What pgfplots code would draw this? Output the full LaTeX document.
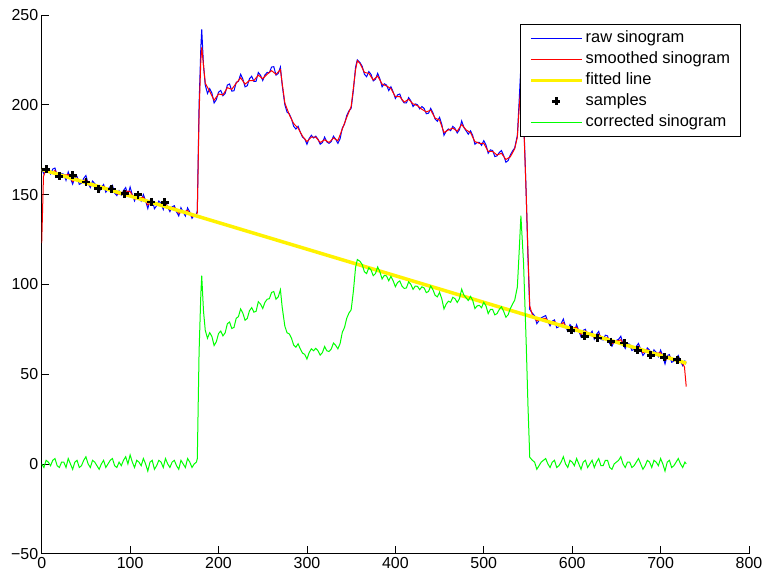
\documentclass[border=0pt]{standalone}
\usepackage{pgfplots}
\pgfplotsset{compat=1.18}
\usepackage{pgfplotstable}
\usepackage{fontspec}
\setmainfont{Liberation Sans}

\pgfplotstableread[row sep=\\]{
x y\\
0 164.0\\ 2.5 161.6\\ 5 165.3\\ 7.5 163.9\\ 10 161.5\\ 12.5 164.2\\ 15 164.8\\ 17.5 160.4\\ 20 159.0\\ 22.5 161.7\\
25 161.3\\ 27.5 157.9\\ 30 162.6\\ 32.5 159.2\\ 35 155.8\\ 37.5 159.5\\ 40 160.1\\ 42.5 155.7\\ 45 156.3\\ 47.5 159.0\\
50 160.6\\ 52.5 156.2\\ 55 153.9\\ 57.5 157.5\\ 60 156.1\\ 62.5 153.8\\ 65 151.4\\ 67.5 154.0\\ 70 155.6\\ 72.5 151.3\\
75 152.9\\ 77.5 154.5\\ 80 155.2\\ 82.5 150.8\\ 85 149.4\\ 87.5 152.1\\ 90 149.7\\ 92.5 152.3\\ 95 153.9\\ 97.5 149.6\\
100 154.2\\ 102.5 149.8\\ 105 146.5\\ 107.5 150.1\\ 110 148.7\\ 112.5 146.4\\ 115 150.0\\ 117.5 146.6\\ 120 142.2\\ 122.5 146.9\\
125 147.5\\ 127.5 142.1\\ 130 143.8\\ 132.5 146.4\\ 135 145.0\\ 137.5 141.7\\ 140 146.3\\ 142.5 142.9\\ 145 140.5\\ 147.5 143.2\\
150 143.8\\ 152.5 140.4\\ 155 138.1\\ 157.5 142.7\\ 160 140.3\\ 162.5 138.0\\ 165 142.6\\ 167.5 140.2\\ 170 136.8\\ 172.5 138.5\\
175 139.1\\ 176 141\\ 178 200\\ 180 232\\ 181 242\\ 183 222\\ 185 211\\ 187.5 206.3\\ 190 209\\ 192.5 206.5\\
195 201\\ 197.5 202.8\\ 200 207\\ 202.5 208\\ 205 205\\ 207.5 206.3\\ 210 211\\ 212.5 211.6\\ 215 207.6\\ 217.5 207.8\\
220 212.5\\ 222.5 213.1\\ 225 217\\ 227.5 214.3\\ 230 210\\ 232.5 210.6\\ 235 214.5\\ 237.5 215.9\\ 240 213\\ 242.5 213.1\\
245 218\\ 247.5 216.4\\ 250 213.5\\ 252.5 216.6\\ 255 218\\ 257.5 217.9\\ 260 221\\ 262.5 221.2\\ 265 216.5\\ 267.5 217.4\\
270 221\\ 272 211\\ 275 200\\ 277.5 195.9\\ 280 195\\ 282.5 192.2\\ 285 188\\ 287.5 186.5\\ 290 188\\ 292.5 184.7\\
295 182\\ 297.5 181\\ 300 178\\ 302.5 181.2\\ 305 183\\ 307.5 181.5\\ 310 182.5\\ 312.5 180.8\\ 315 178\\ 317.5 179\\
320 182\\ 322.5 179.3\\ 325 178.5\\ 327.5 179.5\\ 330 182.5\\ 332.5 180.8\\ 335 178.5\\ 337.5 181.1\\ 340 187\\ 342.5 189.3\\
345 194\\ 347.5 196.6\\ 350 198\\ 352.5 207.8\\ 355 221\\ 357 225\\ 360 223.5\\ 362.5 221.4\\ 365 217\\ 367.5 215.6\\
370 218.5\\ 372.5 216.9\\ 375 213.3\\ 377.5 214.2\\ 380 217.5\\ 382.5 214.4\\ 385 210\\ 387.5 211.7\\ 390 211\\ 392.5 207.9\\
395 210\\ 397.5 207.2\\ 400 203.5\\ 402.5 205.5\\ 405 206\\ 407.5 202.7\\ 410 201\\ 412.5 201\\ 415 204\\ 417.5 202.2\\
420 199\\ 422.5 200.5\\ 425 200\\ 427.5 197.7\\ 430 199\\ 432.5 198\\ 435 195\\ 437.5 195.3\\ 440 198\\ 442.5 195.5\\
445 192\\ 447.5 190.8\\ 450 193\\ 452.5 189.1\\ 455 183\\ 457.5 185.3\\ 460 186.5\\ 462.5 185.6\\ 465 188\\ 467.5 186.8\\
470 184.3\\ 472.5 186.1\\ 475 191\\ 477.5 187.4\\ 480 185.5\\ 482.5 183.6\\ 485 185.5\\ 487.5 182.9\\ 490 178\\ 492.5 179.1\\
495 179\\ 497.5 177.4\\ 500 180\\ 502.5 177.7\\ 505 173\\ 507.5 174.9\\ 510 174.5\\ 512.5 171.2\\ 515 171.5\\ 517.5 173.4\\
520 174.5\\ 522.5 171.7\\ 525 168\\ 527.5 168.9\\ 530 172\\ 532.5 174.2\\ 535 176\\ 538 183\\ 540 202\\ 542 222\\
545 195\\ 548 150\\ 550 115\\ 552 86\\ 555 83.9\\ 557.5 82.5\\ 560 78.1\\ 562.5 79.8\\ 565 81.4\\ 567.5 82.0\\
570 82.6\\ 572.5 79.3\\ 575 76.9\\ 577.5 79.5\\ 580 80.2\\ 582.5 75.8\\ 585 76.4\\ 587.5 78.1\\ 590 80.7\\ 592.5 76.3\\
595 73.9\\ 597.5 77.6\\ 600 76.2\\ 602.5 73.8\\ 605 77.5\\ 607.5 74.1\\ 610 70.7\\ 612.5 74.4\\ 615 75.0\\ 617.5 70.6\\
620 72.2\\ 622.5 73.9\\ 625 69.5\\ 627.5 72.1\\ 630 73.8\\ 632.5 69.4\\ 635 69.0\\ 637.5 71.7\\ 640 71.3\\ 642.5 66.9\\
645 65.5\\ 647.5 68.2\\ 650 68.8\\ 652.5 69.4\\ 655 71.1\\ 657.5 66.7\\ 660 64.3\\ 662.5 67.0\\ 665 66.6\\ 667.5 63.2\\
670 63.8\\ 672.5 65.5\\ 675 67.1\\ 677.5 63.7\\ 680 60.4\\ 682.5 62.0\\ 685 64.6\\ 687.5 63.3\\ 690 59.9\\ 692.5 63.5\\
695 62.1\\ 697.5 59.8\\ 700 63.4\\ 702.5 60.0\\ 705 55.7\\ 707.5 60.3\\ 710 60.9\\ 712.5 56.6\\ 715 57.2\\ 717.5 58.8\\
720 60.4\\ 722.5 57.1\\ 725 54.7\\ 727.5 57.3\\ 729 56.0\\
}\rawdata

\pgfplotstableread[row sep=\\]{
x y\\
0 123\\ 2 160\\ 5 164.3\\ 10 162.0\\ 15 163.3\\ 20 160.0\\ 25 160.8\\ 30 161.1\\ 35 157.3\\ 40 159.1\\ 45 156.8\\
50 158.6\\ 55 154.9\\ 60 155.6\\ 65 152.9\\ 70 154.6\\ 75 152.9\\ 80 153.7\\ 85 150.4\\ 90 150.2\\ 95 151.9\\
100 151.7\\ 105 147.5\\ 110 148.2\\ 115 148.5\\ 120 144.2\\ 125 146.5\\ 130 144.3\\ 135 144.5\\ 140 144.8\\ 145 141.5\\
150 142.8\\ 155 139.6\\ 160 140.3\\ 165 141.1\\ 170 137.8\\ 175 138.6\\ 176 140\\ 178 195\\ 180 225\\ 181 232\\
183 222\\ 185 212\\ 190 207.5\\ 195 202.5\\ 200 206\\ 205 205.5\\ 210 209.5\\ 215 208.6\\ 220 212\\ 225 215\\
230 211.5\\ 235 213.5\\ 240 213.5\\ 245 216.5\\ 250 214.5\\ 255 217\\ 260 219\\ 265 217\\ 270 219.5\\ 272 212\\
275 201\\ 280 194.5\\ 285 189.5\\ 290 187\\ 295 182.5\\ 300 179.5\\ 305 182\\ 310 182\\ 315 179\\ 320 180.5\\
325 179\\ 330 181.5\\ 335 180\\ 340 186.5\\ 345 193\\ 350 199\\ 355 219.5\\ 357 224.5\\ 360 223\\ 365 218\\
370 217.5\\ 375 213.8\\ 380 216\\ 385 211.5\\ 390 210.5\\ 395 209\\ 400 204.5\\ 405 204.5\\ 410 201.5\\ 415 203\\
420 200.5\\ 425 199.5\\ 430 197.5\\ 435 196\\ 440 197\\ 445 192.5\\ 450 191.5\\ 455 184.5\\ 460 186\\ 465 187\\
470 185.3\\ 475 189\\ 480 186\\ 485 184.5\\ 490 179.5\\ 495 178.5\\ 500 178.5\\ 505 174\\ 510 174\\ 515 172\\
520 173\\ 525 169.5\\ 530 171\\ 535 175.5\\ 538 182\\ 540 198\\ 542 210\\ 545 192\\ 548 150\\ 550 117\\
552 88\\ 555 82.9\\ 560 79.6\\ 565 80.9\\ 570 81.1\\ 575 77.9\\ 580 79.2\\ 585 76.9\\ 590 78.7\\ 595 74.9\\
600 75.7\\ 605 76.0\\ 610 72.2\\ 615 74.0\\ 620 72.2\\ 625 70.5\\ 630 72.3\\ 635 69.5\\ 640 70.3\\ 645 67.0\\
650 68.3\\ 655 69.1\\ 660 65.3\\ 665 66.1\\ 670 64.3\\ 675 65.6\\ 680 61.9\\ 685 63.6\\ 690 60.9\\ 695 61.6\\
700 61.9\\ 705 57.7\\ 710 59.9\\ 715 57.7\\ 720 58.9\\ 725 55.7\\ 727 54\\ 729 43\\
}\smoothdata

\pgfplotstableread[row sep=\\]{
x y\\
0 0.0\\ 2.5 -2\\ 5 2.0\\ 7.5 1\\ 10 -1.0\\ 12.5 2\\ 15 3.0\\ 17.5 -1\\ 20 -2.0\\ 22.5 1\\
25 1.0\\ 27.5 -2\\ 30 3.0\\ 32.5 0\\ 35 -3.0\\ 37.5 1\\ 40 2.0\\ 42.5 -2\\ 45 -1.0\\ 47.5 2\\
50 4.0\\ 52.5 0\\ 55 -2.0\\ 57.5 2\\ 60 1.0\\ 62.5 -1\\ 65 -3.0\\ 67.5 0\\ 70 2.0\\ 72.5 -2\\
75 0.0\\ 77.5 2\\ 80 3.0\\ 82.5 -1\\ 85 -2.0\\ 87.5 1\\ 90 -1.0\\ 92.5 2\\ 95 4.0\\ 97.5 0\\
100 5.0\\ 102.5 1\\ 105 -2.0\\ 107.5 2\\ 110 1.0\\ 112.5 -1\\ 115 3.0\\ 117.5 0\\ 120 -4.0\\ 122.5 1\\
125 2.0\\ 127.5 -3\\ 130 -1.0\\ 132.5 2\\ 135 1.0\\ 137.5 -2\\ 140 3.0\\ 142.5 0\\ 145 -2.0\\ 147.5 1\\
150 2.0\\ 152.5 -1\\ 155 -3.0\\ 157.5 2\\ 160 0.0\\ 162.5 -2\\ 165 3.0\\ 167.5 1\\ 170 -2.0\\ 172.5 0\\
175 1.0\\ 176 3.0\\ 178 62.3\\ 180 94.6\\ 181 104.8\\ 183 85.1\\ 185 74.4\\ 187.5 70\\ 190 73.1\\ 192.5 71\\
195 65.9\\ 197.5 68\\ 200 72.6\\ 202.5 74\\ 205 71.3\\ 207.5 73\\ 210 78.1\\ 212.5 79\\ 215 75.4\\ 217.5 76\\
220 81.1\\ 222.5 82\\ 225 86.3\\ 227.5 84\\ 230 80.0\\ 232.5 81\\ 235 85.3\\ 237.5 87\\ 240 84.5\\ 242.5 85\\
245 90.3\\ 247.5 89\\ 250 86.5\\ 252.5 90\\ 255 91.7\\ 257.5 92\\ 260 95.5\\ 262.5 96\\ 265 91.7\\ 267.5 93\\
270 97.0\\ 272 87.3\\ 275 76.7\\ 277.5 73\\ 280 72.4\\ 282.5 70\\ 285 66.2\\ 287.5 65\\ 290 66.9\\ 292.5 64\\
295 61.7\\ 297.5 61\\ 300 58.4\\ 302.5 62\\ 305 64.1\\ 307.5 63\\ 310 64.4\\ 312.5 63\\ 315 60.6\\ 317.5 62\\
320 65.4\\ 322.5 63\\ 325 62.6\\ 327.5 64\\ 330 67.3\\ 332.5 66\\ 335 64.1\\ 337.5 67\\ 340 73.3\\ 342.5 76\\
345 81.1\\ 347.5 84\\ 350 85.8\\ 352.5 96\\ 355 109.5\\ 357 113.8\\ 360 112.8\\ 362.5 111\\ 365 107.0\\ 367.5 106\\
370 109.3\\ 372.5 108\\ 375 104.8\\ 377.5 106\\ 380 109.7\\ 382.5 107\\ 385 103.0\\ 387.5 105\\ 390 104.7\\ 392.5 102\\
395 104.5\\ 397.5 102\\ 400 98.7\\ 402.5 101\\ 405 101.9\\ 407.5 99\\ 410 97.7\\ 412.5 98\\ 415 101.4\\ 417.5 100\\
420 97.2\\ 422.5 99\\ 425 98.9\\ 427.5 97\\ 430 98.6\\ 432.5 98\\ 435 95.4\\ 437.5 96\\ 440 99.1\\ 442.5 97\\
445 93.9\\ 447.5 93\\ 450 95.6\\ 452.5 92\\ 455 86.3\\ 457.5 89\\ 460 90.6\\ 462.5 90\\ 465 92.8\\ 467.5 92\\
470 89.9\\ 472.5 92\\ 475 97.3\\ 477.5 94\\ 480 92.5\\ 482.5 91\\ 485 93.3\\ 487.5 91\\ 490 86.5\\ 492.5 88\\
495 88.3\\ 497.5 87\\ 500 90.0\\ 502.5 88\\ 505 83.7\\ 507.5 86\\ 510 86.0\\ 512.5 83\\ 515 83.7\\ 517.5 86\\
520 87.5\\ 522.5 85\\ 525 81.7\\ 527.5 83\\ 530 86.4\\ 532.5 89\\ 535 91.2\\ 538 98.6\\ 540 117.9\\ 542 138.2\\
545 111.7\\ 548 67.1\\ 550 32.4\\ 552 3.7\\ 555 2.0\\ 557.5 1\\ 560 -3.0\\ 562.5 -1\\ 565 1.0\\ 567.5 2\\
570 3.0\\ 572.5 0\\ 575 -2.0\\ 577.5 1\\ 580 2.0\\ 582.5 -2\\ 585 -1.0\\ 587.5 1\\ 590 4.0\\ 592.5 0\\
595 -2.0\\ 597.5 2\\ 600 1.0\\ 602.5 -1\\ 605 3.0\\ 607.5 0\\ 610 -3.0\\ 612.5 1\\ 615 2.0\\ 617.5 -2\\
620 0.0\\ 622.5 2\\ 625 -2.0\\ 627.5 1\\ 630 3.0\\ 632.5 -1\\ 635 -1.0\\ 637.5 2\\ 640 2.0\\ 642.5 -2\\
645 -3.0\\ 647.5 0\\ 650 1.0\\ 652.5 2\\ 655 4.0\\ 657.5 0\\ 660 -2.0\\ 662.5 1\\ 665 1.0\\ 667.5 -2\\
670 -1.0\\ 672.5 1\\ 675 3.0\\ 677.5 0\\ 680 -3.0\\ 682.5 -1\\ 685 2.0\\ 687.5 1\\ 690 -2.0\\ 692.5 2\\
695 1.0\\ 697.5 -1\\ 700 3.0\\ 702.5 0\\ 705 -4.0\\ 707.5 1\\ 710 2.0\\ 712.5 -2\\ 715 -1.0\\ 717.5 1\\
720 3.0\\ 722.5 0\\ 725 -2.0\\ 727.5 1\\ 729 0.0\\
}\corrdata

\begin{document}
\begin{tikzpicture}[x=1bp,y=1bp]
\useasboundingbox (0,0) rectangle (765,575);
\begin{axis}[
  at={(41.7bp,21.3bp)}, anchor=south west,
  scale only axis, width=707.3bp, height=538.7bp,
  xmin=0, xmax=800, ymin=-50, ymax=250,
  axis x line*=bottom, axis y line*=left,
  xtick={0,100,...,800}, ytick={-50,0,50,100,150,200,250},
  yticklabels={−50,0,50,100,150,200,250},
  tick align=inside, major tick length=7.5bp,
  tick style={black, line width=0.7bp},
  axis line style={black, line width=0.8bp},
  ticklabel style={font=\fontsize{16}{19}\selectfont},
  /pgf/number format/assume math mode=true,
  legend style={at={(1,1)}, anchor=north east, xshift=-8bp, yshift=-9bp,
    draw=black, line width=0.8bp, font=\fontsize{16.5}{19}\selectfont,
    cells={anchor=west}, inner xsep=8.5bp, inner ysep=4bp, row sep=1bp,
    nodes={inner sep=2bp, text height=12bp, text depth=4bp}},
  legend image code/.code={\draw[mark repeat=2,mark phase=2,#1] plot coordinates {(0bp,0bp) (25.5bp,0bp) (51bp,0bp)};},
]
\addplot[blue, line width=1bp, mark=none] table {\rawdata};
\addplot[red, line width=1bp, mark=none] table {\smoothdata};
\addplot[yellow, line width=3.5bp, mark=none] coordinates {(0,164) (729,56.1)};
\addplot[black, only marks, mark=+, mark size=4bp, line width=2.8bp] coordinates {
(5,164) (20,160.2) (35,160.8) (50,157) (64,153.3) (79,153.1) (94,150.5) (109,150) (124,145.9) (139,145.7)
(599,74.4) (614,71) (629,70.1) (644,68.1) (659,67.3) (674,63.2) (689,60.4) (704,59.3) (719,58)};
\addplot[green, line width=1bp, mark=none] table {\corrdata};
\legend{raw sinogram, smoothed sinogram, fitted line, samples, corrected sinogram}
\end{axis}
\end{tikzpicture}
\end{document}
